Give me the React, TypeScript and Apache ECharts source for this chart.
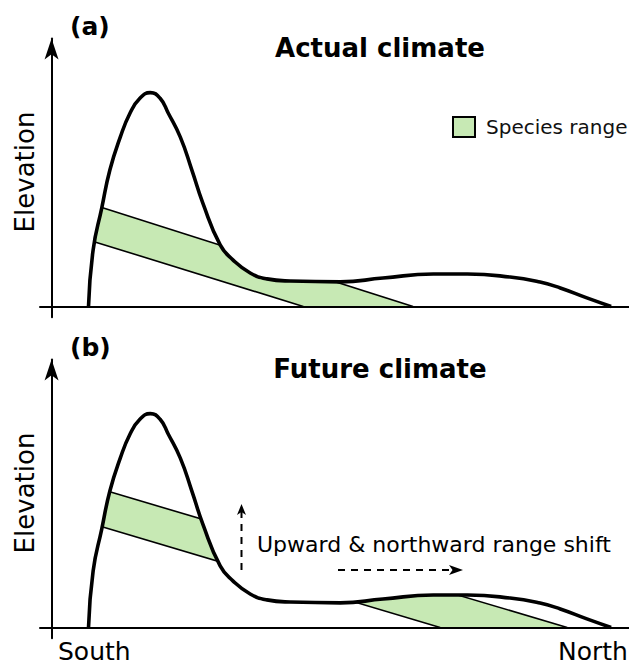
import React, { useEffect, useRef } from "react";
import * as echarts from "echarts";

// Terrain profile from south (left) to north (right): [distance, elevation]
const terrainProfile: [number, number][] = [
  [6.4, 0], [7.2, 21.1], [8.7, 36.8], [10.1, 50.9], [11.9, 63.2], [13.6, 72.2],
  [15.3, 77.7], [17.1, 79.8], [18.8, 77.7], [20.2, 72.2], [22.3, 63.2], [24.3, 50.9],
  [26.2, 38.6], [29.2, 23.0], [31.4, 17.4], [34.4, 12.5], [37.3, 10.3], [41.3, 9.5],
  [50.0, 9.2], [57.4, 10.6], [66.1, 12.1], [72.0, 12.1], [79.4, 11.0], [84.6, 9.1],
  [88.1, 6.9], [92.7, 3.2], [96.9, 0],
];

// Species range limits: each edge is a straight line [start point, end point];
// the part of a line that lies above the ground is hidden by the sky.
const actualUpperEdge: [number, number][] = [[8.3, 37.2], [62.6, 0]];
const actualLowerEdge: [number, number][] = [[7.5, 24.1], [43.6, 0]];
const futureUpperEdge: [number, number][] = [[9.5, 51.0], [89.3, 0]];
const futureLowerEdge: [number, number][] = [[8.3, 37.9], [67.3, 0]];

const panelLabels = ["(a)", "(b)"];
const panelTitles = ["Actual climate", "Future climate"];
const axisName = "Elevation";
const directionLabels = ["South", "North"];
const shiftLabel = "Upward & northward range shift";
const rangeName = "Species range";

const FONT = '"DejaVu Sans", "Noto Sans", sans-serif';
const BAND_FILL = "#c7e9b4";
const SMOOTH = 0.5;

function bandRow(upper: [number, number][], lower: [number, number][]) {
  return [[...upper[0], ...upper[1], ...lower[0], ...lower[1]]];
}

function bandSeries(gridIndex: number, upper: [number, number][], lower: [number, number][]) {
  return {
    type: "custom",
    name: rangeName,
    xAxisIndex: gridIndex,
    yAxisIndex: gridIndex,
    z: 2,
    silent: true,
    itemStyle: { color: BAND_FILL },
    encode: { x: [0, 2, 4, 6], y: [1, 3, 5, 7] },
    data: bandRow(upper, lower),
    renderItem: (_params: any, api: any) => {
      const pt = (i: number) => api.coord([api.value(i), api.value(i + 1)]);
      const uA = pt(0), uB = pt(2), lA = pt(4), lB = pt(6);
      const edge = { stroke: "#000", lineWidth: 1.6 };
      return {
        type: "group",
        children: [
          { type: "polygon", shape: { points: [uA, uB, lB, lA] }, style: { fill: BAND_FILL } },
          { type: "line", shape: { x1: uA[0], y1: uA[1], x2: uB[0], y2: uB[1] }, style: edge },
          { type: "line", shape: { x1: lA[0], y1: lA[1], x2: lB[0], y2: lB[1] }, style: edge },
        ],
      };
    },
  };
}

function terrainSeries(gridIndex: number) {
  return [
    {
      // sky above the ridge line, hides whatever lies above the ground
      type: "line",
      name: "sky",
      xAxisIndex: gridIndex,
      yAxisIndex: gridIndex,
      data: terrainProfile,
      smooth: SMOOTH,
      showSymbol: false,
      silent: true,
      z: 3,
      lineStyle: { width: 0, opacity: 0 },
      areaStyle: { color: "#ffffff", opacity: 1, origin: "end" },
    },
    {
      type: "line",
      name: "terrain",
      xAxisIndex: gridIndex,
      yAxisIndex: gridIndex,
      data: terrainProfile,
      smooth: SMOOTH,
      showSymbol: false,
      silent: true,
      z: 4,
      lineStyle: { color: "#000", width: 3.6 },
    },
  ];
}

const axisLineStyle = { color: "#000", width: 2 };

function xAxisFor(gridIndex: number) {
  return {
    type: "value",
    gridIndex,
    min: -2,
    max: 100,
    z: 5,
    axisLine: { show: true, onZero: true, lineStyle: axisLineStyle },
    axisTick: { show: false },
    axisLabel: { show: false },
    splitLine: { show: false },
  };
}

function yAxisFor(gridIndex: number) {
  return {
    type: "value",
    gridIndex,
    min: -4,
    max: 100,
    z: 5,
    axisLine: {
      show: true,
      onZero: true,
      symbol: ["none", "arrow"],
      symbolSize: [10.5, 21],
      lineStyle: axisLineStyle,
    },
    axisTick: { show: false },
    axisLabel: { show: false },
    splitLine: { show: false },
  };
}

function txt(x: number, y: number, text: string, size: number, opts: any = {}) {
  return {
    type: "text",
    x,
    y,
    z: 10,
    rotation: opts.rotation || 0,
    silent: true,
    style: {
      text,
      fill: "#000",
      fontSize: size,
      fontWeight: opts.bold ? "bold" : "normal",
      fontFamily: FONT,
      align: opts.align || "left",
      verticalAlign: "middle",
    },
  };
}

const PANEL_SHIFT = 321;

export default function App() {
  const ref = useRef<HTMLDivElement>(null);

  useEffect(() => {
    if (!ref.current) return;
    const chart = echarts.init(ref.current, undefined, { renderer: "svg" });

    const dash = { stroke: "#000", lineWidth: 2, lineDash: [7, 6] };
    const graphics: any[] = [];
    [0, 1].forEach((p) => {
      const dy = p * PANEL_SHIFT;
      graphics.push(txt(70, 26 + dy, panelLabels[p], 25, { bold: true }));
      graphics.push(txt(380, 48 + dy, panelTitles[p], 26, { bold: true, align: "center" }));
      graphics.push(txt(25, 172 + dy, axisName, 26, { align: "center", rotation: Math.PI / 2 }));
    });
    graphics.push(txt(58, 651, directionLabels[0], 25));
    graphics.push(txt(558, 651, directionLabels[1], 25));
    graphics.push(txt(257, 544, shiftLabel, 22));
    // upward shift arrow
    graphics.push({ type: "line", z: 10, silent: true, shape: { x1: 241.5, y1: 570, x2: 241.5, y2: 512 }, style: dash });
    graphics.push({
      type: "polygon", z: 10, silent: true,
      shape: { points: [[241.5, 504], [246, 515], [241.5, 512], [237, 515]] },
      style: { fill: "#000" },
    });
    // northward shift arrow
    graphics.push({ type: "line", z: 10, silent: true, shape: { x1: 338, y1: 570, x2: 452, y2: 570 }, style: dash });
    graphics.push({
      type: "polygon", z: 10, silent: true,
      shape: { points: [[463, 570], [449, 575], [452.5, 570], [449, 565]] },
      style: { fill: "#000" },
    });

    chart.setOption({
      animation: false,
      textStyle: { fontFamily: FONT },
      grid: [
        { left: 40, top: 38.5, width: 589, height: 278.7 },
        { left: 40, top: 38.5 + PANEL_SHIFT, width: 589, height: 278.7 },
      ],
      xAxis: [xAxisFor(0), xAxisFor(1)],
      yAxis: [yAxisFor(0), yAxisFor(1)],
      legend: {
        data: [rangeName],
        left: 452,
        top: 116,
        padding: 0,
        icon: "rect",
        itemWidth: 22,
        itemHeight: 20,
        selectedMode: false,
        itemStyle: { color: BAND_FILL, borderColor: "#000", borderWidth: 2 },
        textStyle: { fontSize: 20, color: "#111", fontFamily: FONT, padding: [0, 0, 0, 6] },
      },
      series: [
        bandSeries(0, actualUpperEdge, actualLowerEdge),
        ...terrainSeries(0),
        bandSeries(1, futureUpperEdge, futureLowerEdge),
        ...terrainSeries(1),
      ],
      graphic: graphics,
    });

    return () => chart.dispose();
  }, []);

  return (
    <div
      ref={ref}
      style={{ position: "fixed", left: 0, top: 0, width: 629, height: 666, background: "#fff" }}
    />
  );
}
